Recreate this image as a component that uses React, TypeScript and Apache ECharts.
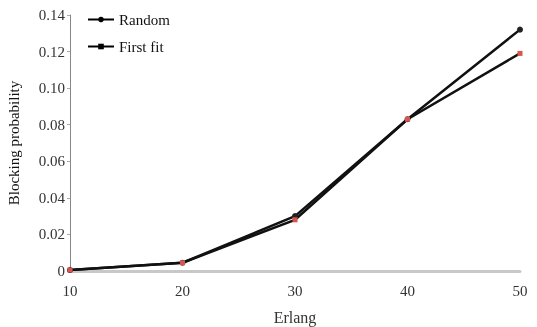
import React, { useEffect, useRef } from "react";
import * as echarts from "echarts";

const erlang = [10, 20, 30, 40, 50];
const randomValues = [0.0005, 0.0045, 0.030, 0.083, 0.132];
const firstFitValues = [0.0005, 0.0045, 0.028, 0.083, 0.119];

export default function App() {
  const ref = useRef<HTMLDivElement>(null);
  useEffect(() => {
    const chart = echarts.init(ref.current!, null, { renderer: "svg" });
    const font = "Liberation Serif";
    chart.setOption({
      animation: false,
      textStyle: { fontFamily: font },
      grid: { left: 70, right: 17, top: 15, bottom: 56, outerBoundsMode: "none" },
      legend: {
        orient: "vertical",
        left: 82,
        top: 7,
        itemGap: 12,
        itemWidth: 26,
        itemHeight: 7,
        textStyle: { fontFamily: font, fontSize: 15, color: "#111" },
        data: [
          { name: "Random", itemStyle: { color: "#000" }, lineStyle: { color: "#000" } },
          { name: "First fit", itemStyle: { color: "#000" }, lineStyle: { color: "#000" } },
        ],
      },
      xAxis: {
        type: "value",
        min: 10,
        max: 50,
        interval: 10,
        name: "Erlang",
        nameLocation: "middle",
        nameGap: 38,
        nameTextStyle: { fontFamily: font, fontSize: 16, color: "#333" },
        axisLine: { lineStyle: { color: "#c8c8c8", width: 3 } },
        axisTick: { show: false },
        splitLine: { show: false },
        axisLabel: { fontFamily: font, fontSize: 15, color: "#333", margin: 12 },
      },
      yAxis: {
        type: "value",
        min: 0,
        max: 0.14,
        interval: 0.02,
        name: "Blocking probability",
        nameLocation: "middle",
        nameGap: 49,
        nameTextStyle: { fontFamily: font, fontSize: 15, color: "#111" },
        axisLine: { show: true, lineStyle: { color: "#888", width: 1 } },
        axisTick: { show: true, length: 3, lineStyle: { color: "#aaa" } },
        splitLine: { show: false },
        axisLabel: {
          fontFamily: font,
          fontSize: 15,
          color: "#333",
          margin: 5,
          formatter: (v: number) => (v === 0 ? "0" : v.toFixed(2)),
        },
      },
      series: [
        {
          name: "Random",
          type: "line",
          data: erlang.map((x, i) => [x, randomValues[i]]),
          symbol: "circle",
          symbolSize: 6,
          itemStyle: { color: "#222" },
          lineStyle: { color: "#111", width: 2.5 },
        },
        {
          name: "First fit",
          type: "line",
          data: erlang.map((x, i) => [x, firstFitValues[i]]),
          symbol: "rect",
          symbolSize: 5,
          itemStyle: { color: "#d9534f" },
          lineStyle: { color: "#111", width: 2.5 },
        },
      ],
    });
    return () => chart.dispose();
  }, []);
  return (
    <div
      ref={ref}
      style={{ position: "fixed", left: 0, top: 0, width: 537, height: 327 }}
    />
  );
}
